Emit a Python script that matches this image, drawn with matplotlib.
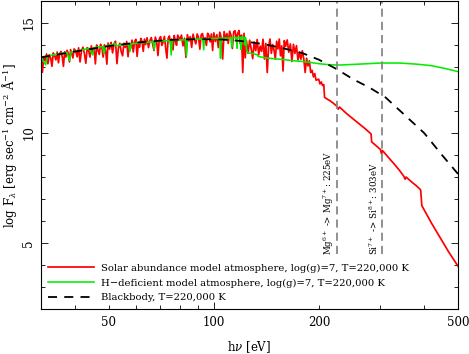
import matplotlib
matplotlib.use('Agg')
import matplotlib.pyplot as plt
from matplotlib.ticker import FixedLocator, FixedFormatter

plt.rcParams['font.family'] = ['DejaVu Serif']
plt.rcParams['mathtext.fontset'] = 'dejavuserif'

# solar abundance model (red): photon energy [eV] and log F_lambda
solar_e = [32.0, 32.3, 32.6, 32.9, 33.2, 33.5, 33.8, 34.1, 34.4, 34.7, 35.0, 35.3, 35.6, 35.9,
           36.2, 36.5, 36.8, 37.1, 37.4, 37.7, 38.0, 38.3, 38.6, 38.9, 39.2, 39.5, 39.8,
           40.2, 40.6, 41.0, 41.4, 41.8, 42.2, 42.6, 43.0, 43.4, 43.8, 44.2, 44.6, 45.0, 45.4,
           45.8, 46.2, 46.6, 47.0, 47.4, 47.8, 48.2, 48.6, 49.0, 49.4, 49.8,
           50.3, 50.8, 51.3, 51.8, 52.3, 52.8, 53.3, 53.8, 54.3, 54.8, 55.3, 55.8, 56.3, 56.8,
           57.3, 57.8, 58.3, 58.8, 59.3, 59.8, 60.3, 60.8, 61.3, 61.8, 62.3, 62.8, 63.3, 63.8,
           64.4, 65.0, 65.6, 66.2, 66.8, 67.4, 68.0, 68.6, 69.2, 69.8, 70.4, 71.0, 71.6, 72.2,
           72.8, 73.4, 74.0, 74.6, 75.2, 75.8, 76.4, 77.0, 77.6, 78.2, 78.8, 79.4,
           80.0, 80.8, 81.6, 82.4, 83.2, 84.0, 84.8, 85.6, 86.4, 87.2, 88.0, 88.8, 89.6, 90.4,
           91.2, 92.0, 92.8, 93.6, 94.4, 95.2, 96.0, 96.8, 97.6, 98.4, 99.2,
           100.0, 101.0, 102.0, 103.0, 104.0, 105.0, 106.0, 107.0, 108.0, 109.0, 110.0, 111.0,
           112.0, 113.0, 114.0, 115.0, 116.0, 117.0, 118.0, 119.0, 120.0, 121.0, 122.0, 123.0,
           124.0, 125.3, 126.6, 127.9, 129.2, 130.5, 131.8, 133.1, 134.4, 135.7, 137.0, 138.3,
           139.6, 140.9, 142.2, 143.5, 144.8, 146.1, 147.4, 148.7, 150.0, 151.3, 152.6, 153.9,
           155.2, 156.5, 157.8, 159.1,
           160.5, 162.2, 163.9, 165.6, 167.3, 169.0, 170.7, 172.4, 174.1, 175.8, 177.5, 179.2,
           180.9, 182.6, 184.3, 186.0, 187.7, 189.4, 191.1, 192.8, 194.5, 196.2, 197.9, 199.6,
           201.3, 203.0, 204.7, 206.4,
           207.5, 212, 215, 220, 225, 227, 229, 240, 250, 260, 270, 280, 282, 283, 290, 300,
           302, 304, 313, 320, 330, 340, 349, 353, 355, 370, 380, 389, 391, 394, 420, 450,
           470, 500]
solar_f = [13.55, 12.76, 13.47, 13.28, 13.59, 13.15, 13.56, 13.42, 13.03, 13.64, 13.51, 13.32, 13.68, 13.19,
           13.6, 13.71, 13.47, 13.03, 13.69, 13.45, 13.76, 13.62, 13.23, 13.79, 13.6, 13.41, 13.82,
           13.75, 13.46, 13.87, 13.23, 13.74, 13.9, 13.61, 13.17, 13.88, 13.74, 13.45, 13.96, 13.62, 13.88,
           13.14, 14.0, 13.76, 13.57, 14.03, 13.89, 13.45, 14.01, 13.77, 13.13, 14.09,
           13.81, 14.12, 13.64, 14.06, 14.17, 13.15, 13.86, 14.08, 13.7, 13.51, 14.08, 13.89, 14.16, 13.47,
           14.04, 13.85, 14.22, 13.68, 14.15, 14.26, 13.48, 14.09, 13.9, 14.3, 14.16, 13.71, 14.27, 14.02,
           14.33, 13.88, 14.19, 14.34, 14.05, 13.75, 14.36, 14.16, 13.52, 14.27, 14.38, 13.98, 14.14, 14.39,
           13.85, 13.4, 14.31, 14.41, 14.07, 14.27, 13.78, 14.43, 14.19, 13.99, 14.45, 14.35,
           14.25, 14.45, 13.96, 14.31, 13.44, 14.47, 14.18, 14.38, 13.89, 14.49, 14.24, 14.05, 14.5, 14.35,
           13.81, 14.46, 14.52, 14.17, 14.33, 13.98, 14.53, 14.44, 14.14, 14.5, 13.75,
           14.55, 14.16, 14.47, 13.88, 14.58, 14.34, 13.36, 14.61, 14.26, 14.52, 14.07, 14.63,
           14.44, 13.84, 14.6, 14.65, 14.26, 14.51, 14.66, 14.06, 14.45, 12.75, 14.53, 13.42,
           14.2, 13.62, 14.22, 13.83, 13.38, 14.14, 13.74, 14.25, 13.55, 13.95, 13.71, 14.26,
           13.36, 14.07, 12.75, 13.92, 14.27, 13.62, 14.02, 13.77, 13.36, 14.17, 13.82, 14.27,
           13.51, 13.96, 12.82, 14.2,
           13.94, 14.23, 13.67, 14.05, 13.25, 14.03, 13.62, 13.97, 13.32, 13.67, 13.35, 13.74,
           13.37, 12.75, 13.4, 13.05, 13.28, 12.75, 12.85, 12.55, 12.7, 12.4, 12.42, 12.45,
           12.23, 12.32, 12.16, 12.2,
           11.62, 11.52, 11.47, 11.35, 11.22, 11.08, 11.18, 10.88, 10.65, 10.43, 10.22, 10.0, 9.95, 9.6, 9.45, 9.25,
           9.05, 9.2, 8.97, 8.8, 8.55, 8.3, 8.06, 7.9, 8.0, 7.75, 7.6, 7.45, 7.4, 6.7, 5.9, 5.1,
           4.6, 3.95]

# H-deficient model (green)
hdef_e = [32.0, 33.0, 33.4, 36.0, 38.0, 38.6, 39.0, 41.0, 44.0, 45.0, 45.4, 48.0, 48.5, 49.0,
          51.5, 52.0, 52.5, 55.0, 57.0, 57.5, 58.0, 62.0, 67.0, 67.5, 68.0, 75.0, 75.5, 76.0,
          83.0, 83.5, 84.0, 90.0, 93.0, 93.5, 94.0, 100.0, 104.0, 104.5, 105.0, 110.0, 112.0,
          112.5, 113.0, 116.0, 116.5, 117.0, 119.0, 119.5, 120.0, 122.0, 122.5, 123.0, 123.5,
          124.0, 125.0, 130.0, 133.0, 134.0, 140.0, 150.0, 160.0, 170.0, 180.0, 190.0, 200.0,
          215.0, 230.0, 260.0, 300.0, 340.0, 380.0, 420.0, 460.0, 500.0]
hdef_f = [13.45, 13.1, 13.5, 13.6, 13.66, 13.3, 13.68, 13.74, 13.85, 13.55, 13.88, 13.93, 13.6, 13.96,
          14.02, 14.08, 13.97, 14.0, 14.03, 13.7, 14.05, 14.1, 14.15, 13.8, 14.16, 14.2, 13.55, 14.21,
          14.24, 13.5, 14.25, 14.27, 14.28, 13.78, 14.28, 14.3, 14.31, 13.4, 14.31, 14.32, 14.32,
          13.9, 14.33, 14.34, 13.85, 14.35, 14.35, 13.8, 14.35, 14.35, 14.0, 14.35, 14.3,
          13.8, 13.65, 13.6, 13.56, 13.48, 13.42, 13.37, 13.33, 13.28, 13.25, 13.2, 13.15,
          13.1, 13.09, 13.13, 13.18, 13.18, 13.13, 13.06, 12.93, 12.79]

# blackbody T=220,000 K (black dashed)
bb_e = [32, 40, 50, 61, 75, 90, 105, 120, 140, 160, 180, 200, 225, 250, 280, 310, 350, 400, 450, 500]
bb_f = [13.44, 13.7, 13.95, 14.12, 14.23, 14.27, 14.25, 14.18, 14.03, 13.83, 13.62, 13.33, 12.9,
        12.45, 12.05, 11.62, 10.85, 10.0, 9.0, 8.14]

# ionisation edges
edge_e = [225, 303]
edge_labels = [r'Mg$^{6+}$ -> Mg$^{7+}$: 225eV', r'Si$^{7+}$ -> Si$^{8+}$: 303eV']

fig = plt.figure(figsize=(4.69, 3.54), dpi=100)
ax = fig.add_axes([0.0874, 0.1271, 0.8891, 0.8701])

ax.plot(solar_e, solar_f, color='#ff0000', lw=1.25,
        label='Solar abundance model atmosphere, log(g)=7, T=220,000 K')
ax.plot(hdef_e, hdef_f, color='#00ee00', lw=1.15,
        label='H\u2212deficient model atmosphere, log(g)=7, T=220,000 K')
bb, = ax.plot(bb_e, bb_f, color='black', lw=1.3, label='Blackbody, T=220,000 K')
bb.set_dashes((5, 4))

for e, lab in zip(edge_e, edge_labels):
    ln = ax.axvline(e, ymin=(4.5 - 2) / 14, ymax=1, color='#888888', lw=1.3)
    ln.set_dashes((4.5, 2.8))
    ax.text(e * 0.95, 4.45, lab, rotation=90, ha='center', va='bottom', fontsize=6.3)

ax.set_xscale('log')
ax.set_xlim(32, 500)
ax.set_ylim(2, 16)

ax.xaxis.set_major_locator(FixedLocator([100]))
ax.xaxis.set_major_formatter(FixedFormatter(['100']))
minor = [40, 50, 60, 70, 80, 90, 200, 300, 400, 500]
ax.xaxis.set_minor_locator(FixedLocator(minor))
ax.xaxis.set_minor_formatter(FixedFormatter(['', '50', '', '', '', '', '200', '', '', '500']))
ax.yaxis.set_major_locator(FixedLocator([5, 10, 15]))
ax.yaxis.set_minor_locator(FixedLocator([3, 4, 6, 7, 8, 9, 11, 12, 13, 14]))

ax.tick_params(which='both', direction='in', top=True, right=True, labelsize=8.5)
ax.tick_params(which='major', length=5, width=0.6)
ax.tick_params(which='minor', length=2.7, width=0.6)
ax.tick_params(axis='x', which='both', pad=5)
ax.tick_params(axis='y', which='major', pad=4)
for t in ax.get_yticklabels():
    t.set_rotation(90)
    t.set_va('center')

for s in ax.spines.values():
    s.set_linewidth(0.8)

ax.set_xlabel(r'h$\nu$ [eV]', fontsize=8.5)
ax.xaxis.set_label_coords(0.5, -0.098)
ax.set_ylabel(r'log F$_\lambda$ [erg sec$^{-1}$ cm$^{-2}$ $\mathrm{\AA}^{-1}$]', fontsize=8.5)
ax.yaxis.set_label_coords(-0.052, 0.53)

ax.legend(loc='lower left', frameon=False, fontsize=7.2, handlelength=4.6,
          handletextpad=0.7, labelspacing=0.55, borderaxespad=0.3)

fig.savefig('out.png', dpi=100)
